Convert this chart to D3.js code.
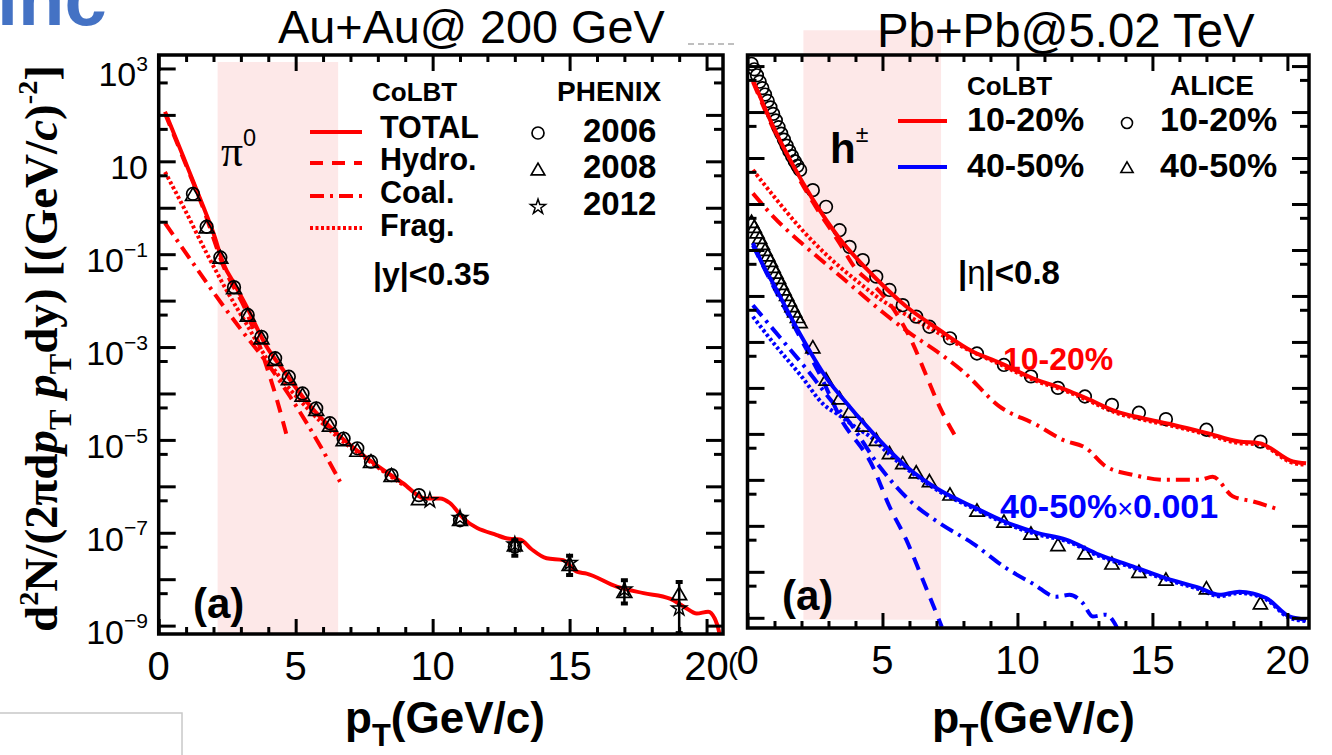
<!DOCTYPE html>
<html>
<head>
<meta charset="utf-8">
<script src="https://cdn.jsdelivr.net/npm/d3@7"></script>
<style>
  html, body { margin: 0; padding: 0; background: #fff; }
  svg { display: block; }
</style>
</head>
<body>
<svg id="chart" width="1332" height="755"></svg>
<script>
// ---------------- Au+Au @ 200 GeV, pi0 (PHENIX) ----------------
const auPt2006 = [1.25,1.75,2.25,2.75,3.25,3.75,4.25,4.75,5.25,5.75,6.25,6.75,7.25,7.75,8.5,9.5,11,13];
const auYield2006 = [2.0,3.9e-1,8.5e-2,1.95e-2,4.9e-3,1.66e-3,5.75e-4,2.29e-4,1.0e-4,4.79e-5,2.29e-5,1.07e-5,6.6e-6,3.39e-6,1.74e-6,6.46e-7,1.86e-7,5.0e-8];
const auPt2008 = [1.25,1.75,2.25,2.75,3.25,3.75,4.25,4.75,5.25,5.75,6.25,6.75,7.25,7.75,8.5,9.5,11,13,15,17,19];
const auYield2008 = [1.78,3.55e-1,7.9e-2,1.74e-2,4.47e-3,1.45e-3,5.0e-4,1.91e-4,8.5e-5,4.17e-5,1.91e-5,9.3e-6,5.5e-6,3.16e-6,1.58e-6,5.0e-7,1.78e-7,5.0e-8,1.91e-8,5.0e-9,4.47e-9];
const auErrPt2008 = [13,15,17,19];
const auErrLo2008 = [3.2e-8,1.23e-8,3.0e-9,6.9e-10];
const auErrHi2008 = [6.9e-8,3.2e-8,9.5e-9,8.7e-9];
const auPt2012 = [9.9,11,13,15,17,19];
const auYield2012 = [5.0e-7,2.09e-7,5.6e-8,2.24e-8,6.0e-9,2.34e-9];

// CoLBT curves, pi0
const auTotalPt = [0.23,0.5,0.9,1.25,1.63,2.0,2.36,2.8,3.21,3.94,4.55,5.4,6.5,7.71,8.93,9.72,10.27,10.63,11.12,12.34,12.8,13.19,13.6,14.16,14.77,15.26,15.62,16.72,17.7,18.66,19.2,19.64,20.06,20.3,20.48,20.55];
const auTotal = [117,47.9,12.6,3.8,1.05,0.282,0.063,0.021,7.4e-3,1.02e-3,3.16e-4,6.6e-5,1.38e-5,3.63e-6,1.15e-6,5.5e-7,5.5e-7,4.37e-7,2.04e-7,8.9e-8,7.4e-8,7.2e-8,4.47e-8,2.82e-8,2.57e-8,1.45e-8,1.32e-8,6.9e-9,5.0e-9,3.8e-9,2.5e-9,1.82e-9,2.0e-9,1.41e-9,6.3e-10,3.2e-10];
const auHydroPt = [0.23,0.9,1.63,2.36,3.21,3.94,4.3,4.67];
const auHydro = [107,11.5,0.955,0.056,5.6e-3,3.8e-4,7.9e-5,1.26e-5];
const auCoalPt = [0.23,1.26,2.12,3.0,4.0,4.8,5.77,6.62];
const auCoal = [0.468,0.063,0.012,2.4e-3,4.17e-4,8.5e-5,1.0e-5,1.26e-6];
const auFragPt = [0.23,0.9,1.75,2.5,3.2,4.0,5.4,6.5,7.71,8.93];
const auFrag = [5.9,1.05,0.105,0.0158,3.16e-3,5.0e-4,5.0e-5,1.2e-5,3.4e-6,1.07e-6];

// shaded pT window
const auBandPt = [2.15, 6.55];
const auBandYield = [1.38e3, 6.9e-10];

// ---------------- Pb+Pb @ 5.02 TeV, h+- (ALICE) ----------------
const pbPt = [0.15,0.25,0.35,0.45,0.55,0.65,0.75,0.85,0.95,1.05,1.15,1.25,1.35,1.45,1.55,1.65,1.75,1.85,1.95,2.42,2.91,3.41,3.78,4.27,4.77,5.26,5.75,6.25,6.74,7.5,8.5,9.5,10.5,11.5,12.5,13.5,14.5,15.5,17,19];
const alice1020 = [112,85,63,45.7,33.1,24.0,17.4,12.6,9.1,6.6,4.68,3.39,2.51,1.86,1.41,1.10,0.85,0.676,0.55,0.20,0.087,0.0269,0.0117,6.0e-3,2.63e-3,1.35e-3,6.3e-4,3.55e-4,2.14e-4,1.2e-4,5.6e-5,3.16e-5,1.78e-5,1.0e-5,6.5e-6,4.27e-6,2.88e-6,2.09e-6,1.23e-6,6.8e-7];
const alice4050 = [38,29.5,22.4,17.0,12.6,9.3,7.1,5.4,3.98,3.0,2.29,1.7,1.29,0.98,0.74,0.56,0.427,0.324,0.251,0.071,0.0141,5.5e-3,2.82e-3,1.41e-3,6.9e-4,3.55e-4,2.14e-4,1.35e-4,8.7e-5,4.47e-5,2.0e-5,1.15e-5,6.3e-6,3.55e-6,2.34e-6,1.41e-6,9.3e-7,6.3e-7,4.07e-7,1.91e-7];
const scale4050 = 0.001;   // 40-50% set is drawn multiplied by this factor

// CoLBT 10-20%
const c1020TotalPt = [0.2,0.55,0.94,1.68,2.42,3.41,4.64,5.88,7.11,8.34,9.33,10.57,11.8,12.54,13.65,14.64,15.75,16.99,18.22,18.96,20.2,20.69];
const c1020Total = [50.1,16.6,5.0,0.708,0.126,0.0178,2.82e-3,5.9e-4,1.82e-4,6.2e-5,3.55e-5,1.62e-5,9.1e-6,6.0e-6,3.1e-6,2.19e-6,1.58e-6,1.05e-6,6.8e-7,6.3e-7,2.51e-7,2.29e-7];
const c1020HydroPt = [0.2,0.94,1.68,2.42,3.41,4.0,4.64,5.26,6.12,6.6,7.11,7.75];
const c1020Hydro = [45.7,4.57,0.63,0.11,0.0141,3.98e-3,1.78e-3,6.9e-4,9.3e-5,2.0e-5,3.98e-6,7.9e-7];
const c1020CoalPt = [0.2,1,2,3,4,5,6,7,8,9.33,10.7,11.68,12.54,13.28,14.27,15.51,16.74,17.23,17.97,18.72,19.7];
const c1020Coal = [0.17,0.05,0.0141,4.47e-3,1.41e-3,4.47e-4,1.58e-4,6.3e-5,2.24e-5,3.98e-6,1.58e-6,7.4e-7,4.9e-7,1.95e-7,1.29e-7,1.0e-7,1.0e-7,1.17e-7,4.4e-8,3.4e-8,2.24e-8];
const c1020FragPt = [0.2,1,2,3,4,5,6,7,8,9.33,10.57,11.8,12.54,13.65,14.64,15.75,16.99,18.22,18.96,20.2,20.69];
const c1020Frag = [0.55,0.141,0.0282,7.1e-3,2.24e-3,7.9e-4,3.55e-4,1.66e-4,7.6e-5,3.3e-5,1.51e-5,8.5e-6,5.6e-6,2.88e-6,2.04e-6,1.48e-6,9.8e-7,6.3e-7,5.9e-7,2.34e-7,2.14e-7];

// CoLBT 40-50% (before the x0.001 factor)
const c4050TotalPt = [0.2,0.55,0.94,1.93,3.04,3.41,4.64,5.88,7.11,8.34,9.45,10.7,11.8,13.04,14.27,15.51,16.74,17.48,18.22,19.21,20.07,20.69];
const c4050Total = [14.1,5.0,1.91,0.155,0.0132,7.1e-3,1.05e-3,1.95e-4,6.0e-5,2.63e-5,1.29e-5,7.1e-6,5.0e-6,2.34e-6,1.32e-6,7.2e-7,4.47e-7,3.16e-7,3.7e-7,2.69e-7,1.07e-7,9.1e-8];
const c4050HydroPt = [0.2,0.94,1.93,2.8,3.41,4.64,5.26,5.88,6.49,7.2];
const c4050Hydro = [12.6,1.7,0.132,0.0141,2.4e-3,1.95e-4,2.63e-5,5.0e-6,6.8e-7,6.3e-8];
const c4050CoalPt = [0.2,1.2,2.2,3.0,3.78,4.89,6.12,7.11,8.34,9.58,10.6,11.43,11.93,12.42,12.79,13.28,13.6,13.75];
const c4050Coal = [0.63,0.126,0.0251,6.3e-3,1.78e-3,1.95e-4,3.1e-5,1.15e-5,4.17e-6,1.2e-6,5.4e-7,2.88e-7,3.16e-7,2.09e-7,1.07e-7,1.17e-7,7.6e-8,5.0e-8];
const c4050FragPt = [0.2,1.0,2.0,2.8,3.41,4.0,4.64,5.26,5.88,7.11,8.34,9.45,10.7,11.8,13.04,14.27,15.51,16.74,17.48,18.22,19.21,20.07,20.69];
const c4050Frag = [0.355,0.089,0.0178,4.47e-3,2.51e-3,1.41e-3,7.9e-4,3.55e-4,1.78e-4,5.6e-5,2.45e-5,1.2e-5,6.6e-6,4.68e-6,2.19e-6,1.23e-6,6.8e-7,4.17e-7,2.95e-7,3.47e-7,2.51e-7,1.0e-7,8.5e-8];

const pbBandPt = [2.07, 7.17];
const pbBandYield = [6.0e2, 9.1e-11];

// ---------------- axis ticks ----------------
const xMajorTicks = [0,5,10,15,20];
const xMinorTicks = [1,2,3,4,6,7,8,9,11,12,13,14,16,17,18,19];
const xTickText = ["0","5","10","15","20"];
const auYDecades = [1e-9,1e-8,1e-7,1e-6,1e-5,1e-4,1e-3,1e-2,1e-1,1,1e1,1e2,1e3];
const auYHalves = [5e-9,5e-8,5e-7,5e-6,5e-5,5e-4,5e-3,5e-2,5e-1,5,50,500];
const auYLabelValues = [1e3,1e1,1e-1,1e-3,1e-5,1e-7,1e-9];
const auYLabelExp = ["3","","\u22121","\u22123","\u22125","\u22127","\u22129"];
const pbYDecades = [1e-10,1e-9,1e-8,1e-7,1e-6,1e-5,1e-4,1e-3,1e-2,1e-1,1,1e1,1e2];
const pbYHalves = [5e-11,5e-10,5e-9,5e-8,5e-7,5e-6,5e-5,5e-4,5e-3,5e-2,5e-1,5,50];

// ---------------- drawing ----------------
const SANS = "'Liberation Sans', Arial, Helvetica, sans-serif";
const SERIF = "'Liberation Serif', 'Times New Roman', Times, serif";
const RED = "#ff0000", BLUE = "#0000ff";
const DASH = { solid: null, dashed: "13,9", dashdot: "14,6,3,6", dotted: "3,2.5" };

const svg = d3.select("#chart");

// text with super/subscript pieces
function rich(parent, x, y, parts, o) {
  const t = parent.append("text").attr("x", x).attr("y", y)
    .attr("font-family", o.family || SANS).attr("font-size", o.size)
    .attr("font-weight", o.weight || "normal").attr("fill", o.fill || "#000")
    .attr("text-anchor", o.anchor || "start");
  if (o.rotate) t.attr("transform", `rotate(${o.rotate},${x},${y})`);
  let shift = 0;
  parts.forEach(p => {
    if (typeof p === "string") p = { t: p };
    const s = t.append("tspan").text(p.t);
    let target = 0, fs = o.size * (p.scale || 1);
    if (p.sup) { target = -o.size * (p.raise || 0.42); fs = o.size * (p.scale || 0.62); }
    if (p.sub) { target = o.size * (p.drop || 0.28); fs = o.size * (p.scale || 0.62); }
    s.attr("font-size", fs);
    if (target - shift !== 0) s.attr("dy", target - shift);
    shift = target;
    if (p.italic) s.attr("font-style", "italic");
    if (p.weight) s.attr("font-weight", p.weight);
    if (p.family) s.attr("font-family", p.family);
    if (p.fill) s.attr("fill", p.fill);
  });
  return t;
}
// same, with the font size tuned so the run spans a given width
function richFit(parent, x, y, parts, o, width) {
  let t = rich(parent, x, y, parts, o);
  const w = t.node().getBBox().width;
  if (w > 0) { t.remove(); t = rich(parent, x, y, parts, Object.assign({}, o, { size: o.size * width / w })); }
  return t;
}

function makePanel(box, xDomain, yDomain, id) {
  const g = svg.append("g");
  const x = d3.scaleLinear().domain(xDomain).range([box.left, box.right]);
  const y = d3.scaleLog().domain(yDomain).range([box.bottom, box.top]);
  svg.append("clipPath").attr("id", id).append("rect")
    .attr("x", box.left).attr("y", box.top)
    .attr("width", box.right - box.left).attr("height", box.bottom - box.top);
  const back = g.append("g");
  const plot = g.append("g").attr("clip-path", `url(#${id})`);
  const front = g.append("g");
  return { g, x, y, box, back, plot, front };
}

function drawAxes(p, yDec, yHalf) {
  const { front, x, y, box } = p;
  const tidy = s => {
    s.select(".domain").remove();
    s.selectAll("line").attr("stroke", "#000").attr("stroke-width", 3);
    s.selectAll("text").remove();
  };
  const put = (gen, tr) => front.append("g").attr("transform", tr).call(gen).call(tidy);
  put(d3.axisBottom(x).tickValues(xMajorTicks).tickSize(-15), `translate(0,${box.bottom})`);
  put(d3.axisBottom(x).tickValues(xMinorTicks).tickSize(-7), `translate(0,${box.bottom})`);
  put(d3.axisTop(x).tickValues(xMajorTicks).tickSize(-16), `translate(0,${box.top})`);
  put(d3.axisTop(x).tickValues(xMinorTicks).tickSize(-7), `translate(0,${box.top})`);
  const [lo, hi] = y.domain();
  const inD = v => v >= lo && v <= hi;
  put(d3.axisLeft(y).tickValues(yDec.filter(inD)).tickSize(-17), `translate(${box.left},0)`);
  put(d3.axisLeft(y).tickValues(yHalf.filter(inD)).tickSize(-9), `translate(${box.left},0)`);
  put(d3.axisRight(y).tickValues(yDec.filter(inD)).tickSize(-17), `translate(${box.right},0)`);
  put(d3.axisRight(y).tickValues(yHalf.filter(inD)).tickSize(-9), `translate(${box.right},0)`);
  front.append("rect").attr("x", box.left).attr("y", box.top)
    .attr("width", box.right - box.left).attr("height", box.bottom - box.top)
    .attr("fill", "none").attr("stroke", "#000").attr("stroke-width", 3.5);
  // x tick labels
  front.selectAll(null).data(xMajorTicks).join("text")
    .attr("x", d => x(d)).attr("y", box.bottom + 46)
    .attr("text-anchor", "middle").attr("font-family", SANS).attr("font-size", 40)
    .text((d, i) => xTickText[i]);
}

function curve(p, pts, vals, color, style, k = 1, width = 4) {
  const line = d3.line().x(d => p.x(d[0])).y(d => p.y(d[1] * k)).curve(d3.curveMonotoneX);
  p.plot.append("path").datum(d3.zip(pts, vals)).attr("d", line)
    .attr("fill", "none").attr("stroke", color).attr("stroke-width", width)
    .attr("stroke-dasharray", DASH[style]).attr("stroke-linejoin", "round");
}

const triSym = size => d3.symbol(d3.symbolTriangle, size)();
const starSym = size => d3.symbol(d3.symbolStar, size)();

function circles(p, pts, vals, r, k = 1) {
  p.plot.append("g").selectAll("circle").data(d3.zip(pts, vals)).join("circle")
    .attr("cx", d => p.x(d[0])).attr("cy", d => p.y(d[1] * k)).attr("r", r)
    .attr("fill", "none").attr("stroke", "#000").attr("stroke-width", 1.7);
}
function symbols(p, pts, vals, path, k = 1, sw = 1.7) {
  p.plot.append("g").selectAll("path").data(d3.zip(pts, vals)).join("path")
    .attr("transform", d => `translate(${p.x(d[0])},${p.y(d[1] * k)})`).attr("d", path)
    .attr("fill", "none").attr("stroke", "#000").attr("stroke-width", sw).attr("stroke-linejoin", "miter");
}

// ---------- left panel ----------
const au = makePanel({ left: 158.7, right: 723, top: 55, bottom: 634 }, [0, 20.6], [6.6e-10, 1.95e3], "clipAu");

au.back.append("rect")
  .attr("x", au.x(auBandPt[0])).attr("width", au.x(auBandPt[1]) - au.x(auBandPt[0]))
  .attr("y", au.y(auBandYield[0])).attr("height", au.y(auBandYield[1]) - au.y(auBandYield[0]))
  .attr("fill", "#fde8e8");

curve(au, auCoalPt, auCoal, RED, "dashdot");
curve(au, auFragPt, auFrag, RED, "dotted");
curve(au, auHydroPt, auHydro, RED, "dashed");
curve(au, auTotalPt, auTotal, RED, "solid");

// error bars of the 2008 set at high pT
const errG = au.plot.append("g");
d3.range(auErrPt2008.length).forEach(i => {
  const cx = au.x(auErrPt2008[i]);
  const y1 = au.y(auErrHi2008[i]), y2 = au.y(auErrLo2008[i]);
  errG.append("line").attr("x1", cx).attr("x2", cx).attr("y1", y1).attr("y2", y2)
    .attr("stroke", "#000").attr("stroke-width", 2.5);
  [y1, y2].forEach(yy => errG.append("rect").attr("x", cx - 3.5).attr("y", yy - 2).attr("width", 7).attr("height", 4).attr("fill", "#000"));
});
circles(au, auPt2006, auYield2006, 6.3);
symbols(au, auPt2008, auYield2008, triSym(95));
symbols(au, auPt2012, auYield2012, starSym(70), 1, 1.5);

drawAxes(au, auYDecades, auYHalves);

// y tick labels
auYLabelValues.forEach((v, i) => {
  const parts = [{ t: "10" }];
  if (auYLabelExp[i]) parts.push({ t: auYLabelExp[i], sup: true, scale: 0.62, raise: 0.45 });
  rich(au.front, 148, au.y(v) + 18, parts, { size: 34, anchor: "end" });
});

// ---------- right panel ----------
const pb = makePanel({ left: 747.5, right: 1309, top: 55, bottom: 628 }, [0, 20.8], [6.0e-11, 174], "clipPb");

pb.back.append("rect")
  .attr("x", pb.x(pbBandPt[0])).attr("width", pb.x(pbBandPt[1]) - pb.x(pbBandPt[0]))
  .attr("y", pb.y(pbBandYield[0])).attr("height", pb.y(pbBandYield[1]) - pb.y(pbBandYield[0]))
  .attr("fill", "#fde8e8");

curve(pb, c1020CoalPt, c1020Coal, RED, "dashdot");
curve(pb, c1020HydroPt, c1020Hydro, RED, "dashed");
curve(pb, c1020FragPt, c1020Frag, RED, "dotted");
curve(pb, c4050CoalPt, c4050Coal, BLUE, "dashdot", scale4050);
curve(pb, c4050HydroPt, c4050Hydro, BLUE, "dashed", scale4050);
curve(pb, c4050FragPt, c4050Frag, BLUE, "dotted", scale4050);
circles(pb, pbPt, alice1020, 6.3);
symbols(pb, pbPt, alice4050, triSym(85), scale4050);
curve(pb, c1020TotalPt, c1020Total, RED, "solid");
curve(pb, c4050TotalPt, c4050Total, BLUE, "solid", scale4050);

drawAxes(pb, pbYDecades, pbYHalves);

// ---------- titles and labels ----------
richFit(svg, 278, 43, ["Au+Au@ 200 GeV"], { size: 43 }, 387);
richFit(svg, 877, 47, ["Pb+Pb@5.02 TeV"], { size: 43 }, 378);

richFit(svg, 57, 348.5, [
  "d", { t: "2", sup: true, scale: 0.6, raise: 0.4 }, "N/(2\u03c0d",
  { t: "p", italic: true }, { t: "T", sub: true, scale: 0.65, drop: 0.3 },
  { t: " p", italic: true }, { t: "T", sub: true, scale: 0.65, drop: 0.3 },
  "dy) [(GeV/", { t: "c", italic: true }, ")",
  { t: "-2", sup: true, scale: 0.6, raise: 0.42 }, "]"
], { size: 38, family: SERIF, weight: "bold", anchor: "middle", rotate: -90 }, 567);

const xTitle = [{ t: "p" }, { t: "T", sub: true, scale: 0.7, drop: 0.3 }, { t: "(GeV/c)" }];
richFit(svg, 345, 733, xTitle, { size: 40, weight: "bold" }, 200);
richFit(svg, 932, 733, xTitle, { size: 40, weight: "bold" }, 203);

// left legend
const legL = svg.append("g");
rich(legL, 372, 101, ["CoLBT"], { size: 26, weight: "bold" });
rich(legL, 557, 101, ["PHENIX"], { size: 28, weight: "bold" });
[["TOTAL", "solid", 132, 138], ["Hydro.", "dashed", 163, 170], ["Coal.", "dashdot", 196, 203], ["Frag.", "dotted", 228, 236]]
  .forEach(([label, style, ly, ty]) => {
    legL.append("line").attr("x1", 310).attr("x2", 362).attr("y1", ly).attr("y2", ly)
      .attr("stroke", RED).attr("stroke-width", 4).attr("stroke-dasharray", DASH[style]);
    rich(legL, 380, ty, [label], { size: 30.5, weight: "bold" });
  });
legL.append("circle").attr("cx", 538).attr("cy", 133).attr("r", 6).attr("fill", "none").attr("stroke", "#000").attr("stroke-width", 1.7);
legL.append("path").attr("transform", "translate(538,171)").attr("d", triSym(80)).attr("fill", "none").attr("stroke", "#000").attr("stroke-width", 1.7);
legL.append("path").attr("transform", "translate(538,207)").attr("d", starSym(70)).attr("fill", "none").attr("stroke", "#000").attr("stroke-width", 1.5);
rich(legL, 583, 142, ["2006"], { size: 33, weight: "bold" });
rich(legL, 583, 178, ["2008"], { size: 33, weight: "bold" });
rich(legL, 583, 215, ["2012"], { size: 33, weight: "bold" });

rich(svg, 373, 285, ["|y|<0.35"], { size: 32, weight: "bold" });
rich(svg, 221, 166, [{ t: "\u03c0", family: SERIF, scale: 1.15 }, { t: "0", sup: true, scale: 0.62, raise: 0.52 }], { size: 38 });
rich(svg, 193, 618, ["(a)"], { size: 42, weight: "bold" });

// right legend
const legR = svg.append("g");
rich(legR, 967, 95, ["CoLBT"], { size: 26, weight: "bold" });
rich(legR, 1170, 95, ["ALICE"], { size: 28, weight: "bold" });
legR.append("line").attr("x1", 898).attr("x2", 947).attr("y1", 121).attr("y2", 121).attr("stroke", RED).attr("stroke-width", 4);
legR.append("line").attr("x1", 898).attr("x2", 947).attr("y1", 167).attr("y2", 167).attr("stroke", BLUE).attr("stroke-width", 4);
rich(legR, 967, 131, ["10-20%"], { size: 34, weight: "bold" });
rich(legR, 967, 177, ["40-50%"], { size: 34, weight: "bold" });
legR.append("circle").attr("cx", 1127).attr("cy", 123).attr("r", 5.5).attr("fill", "none").attr("stroke", "#000").attr("stroke-width", 1.6);
legR.append("path").attr("transform", "translate(1127,169)").attr("d", triSym(65)).attr("fill", "none").attr("stroke", "#000").attr("stroke-width", 1.6);
rich(legR, 1160, 131, ["10-20%"], { size: 34, weight: "bold" });
rich(legR, 1160, 177, ["40-50%"], { size: 34, weight: "bold" });

rich(svg, 830, 163, [{ t: "h" }, { t: "\u00b1", sup: true, scale: 0.55, raise: 0.5, weight: "normal" }], { size: 42, weight: "bold" });
rich(svg, 958, 284, ["|", { t: "\u03b7", weight: "normal" }, "|<0.8"], { size: 33, weight: "bold" });
rich(svg, 1003, 370, ["10-20%"], { size: 32, weight: "bold", fill: RED });
rich(svg, 1000, 518, ["40-50%", { t: "\u00d7", weight: "normal", scale: 0.8 }, "0.001"], { size: 34, weight: "bold", fill: BLUE });
rich(svg, 782, 610, ["(a)"], { size: 42, weight: "bold" });

// page furniture around the figure
rich(svg, -3, 25, ["inc"], { size: 76, weight: "bold", fill: "#4472c4" });
svg.append("line").attr("x1", 688).attr("x2", 736).attr("y1", 44).attr("y2", 44)
  .attr("stroke", "#aaa").attr("stroke-width", 1.5).attr("stroke-dasharray", "6,4");
rich(svg, 728, 674, ["("], { size: 30 });
svg.append("rect").attr("x", -2).attr("y", 713).attr("width", 184).attr("height", 60)
  .attr("fill", "none").attr("stroke", "#c8c8c8").attr("stroke-width", 1.5);
</script>
</body>
</html>
